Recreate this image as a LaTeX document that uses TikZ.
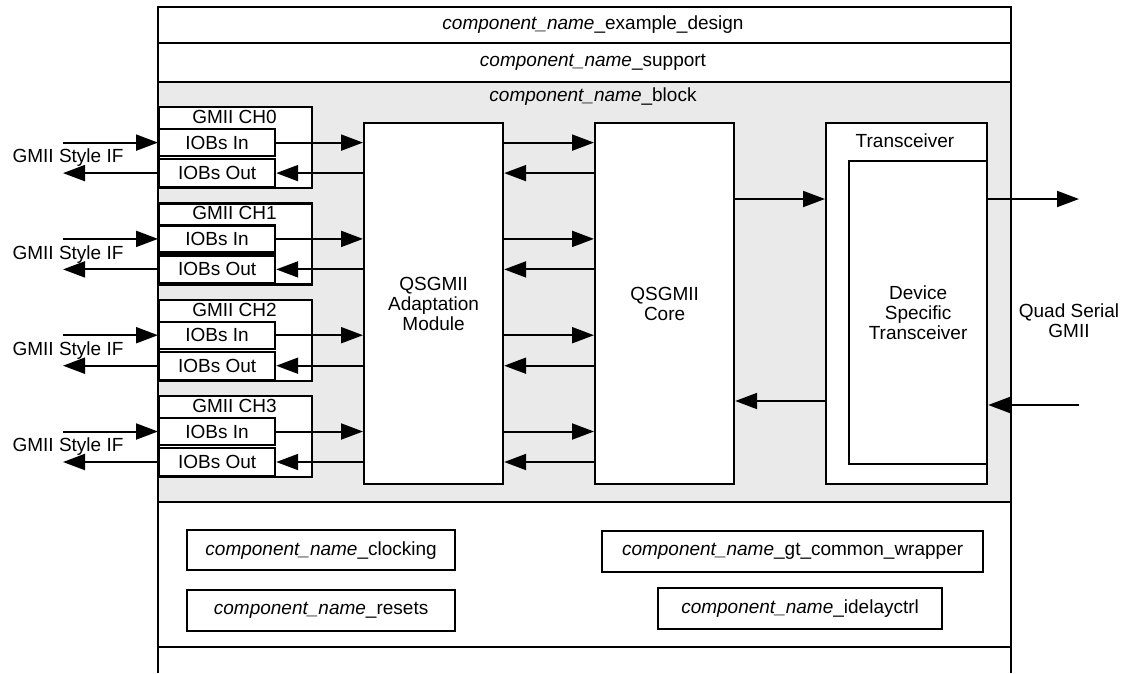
\documentclass[tikz,border=0pt]{standalone}
\usepackage{fontspec}
\setmainfont{Liberation Sans}
\usepackage{tikz}
\usetikzlibrary{arrows.meta, positioning, calc}

\definecolor{blockgray}{RGB}{234,234,234}
\newcommand{\compname}{\textit{component\_name}}

\begin{document}
\begin{tikzpicture}[
    x=1pt, y=-1pt,
    font=\fontsize{19}{20}\selectfont,
    box/.style={draw, line width=2.2pt, fill=white, inner sep=0pt, anchor=north west, align=center},
    lbl/.style={inner sep=0pt, align=center},
    arrow/.style={-{Triangle[length=22pt, width=16pt]}, line width=2pt}
]
    \useasboundingbox (0,0) rectangle (1128,673);

    % Wrapper levels
    \fill[blockgray] (158,82) rectangle (1011,502);
    \draw[line width=2.2pt] (158,673) -- (158,7) -- (1011,7) -- (1011,673);
    \foreach \yy in {43, 82, 502, 647}
        \draw[line width=2.2pt] (158,\yy) -- (1011,\yy);

    \node[lbl] (design) at (593,25) {\compname\_example\_design};
    \node[lbl] (support) at (593,62.5) {\compname\_support};
    \node[lbl] (block) at (593,97) {\compname\_block};

    % Main blocks
    \node[box, minimum width=139pt, minimum height=361pt] (adapt) at (363,122) {QSGMII\\Adaptation\\Module};
    \node[box, minimum width=139pt, minimum height=361pt] (core) at (594,122) {QSGMII\\Core};
    \node[box, minimum width=161pt, minimum height=361pt] (xcvr) at (825,122) {};
    \node[lbl] (xcvrname) at (905,141) {Transceiver};
    \node[box, minimum width=138pt, minimum height=303pt] (dev) at (848,160) {Device\\Specific\\Transceiver};

    % GMII channels
    \foreach \i in {0,...,3} {
        \pgfmathsetmacro{\chtop}{106+96.3*\i}
        \node[box, minimum width=153pt, minimum height=81pt] (ch\i) at (158,\chtop) {};
        \node[lbl] (chname\i) at (234.5,\chtop+11) {GMII CH\i};
        \node[box, minimum width=116pt, minimum height=27pt] (in\i) at (158,\chtop+22) {IOBs In};
        \node[box, minimum width=116pt, minimum height=28pt] (out\i) at (158,\chtop+52) {IOBs Out};
        \node[lbl] (gmii\i) at (68,\chtop+52) {GMII Style IF};
        \coordinate (gin\i) at ($(in\i.west)+(-95,0)$);
        \coordinate (gout\i) at ($(out\i.west)+(-95,0)$);
        \draw[arrow] (gin\i) -- (in\i.west);
        \draw[arrow] (out\i.west) -- (gout\i);
        \draw[arrow] (in\i.east) -- (adapt.west |- in\i.east);
        \draw[arrow] (adapt.west |- out\i.east) -- (out\i.east);
        \draw[arrow] (adapt.east |- in\i.east) -- (core.west |- in\i.east);
        \draw[arrow] (core.west |- out\i.east) -- (adapt.east |- out\i.east);
    }

    % Serial side
    \coordinate (tx) at (0,199);
    \coordinate (rx) at (0,401);
    \coordinate (qout) at (1079,199);
    \coordinate (qin) at (1079,405);
    \draw[arrow] (core.east |- tx) -- (xcvr.west |- tx);
    \draw[arrow] (xcvr.west |- rx) -- (core.east |- rx);
    \draw[arrow] (dev.east |- qout) -- (qout);
    \draw[arrow] (qin) -- (dev.east |- qin);
    \node[lbl] (qsgmii) at (1069,321) {Quad Serial\\GMII};

    % Support modules
    \node[box, minimum width=268pt, minimum height=40pt] (clocking) at (186,529) {\compname\_clocking};
    \node[box, minimum width=268pt, minimum height=41pt, below=18pt of clocking] (resets) {\compname\_resets};
    \node[box, minimum width=381pt, minimum height=41pt] (gtwrap) at (601,530) {\compname\_gt\_common\_wrapper};
    \node[box, minimum width=284pt, minimum height=41pt] (idelay) at (657,587) {\compname\_idelayctrl};

\end{tikzpicture}
\end{document}
